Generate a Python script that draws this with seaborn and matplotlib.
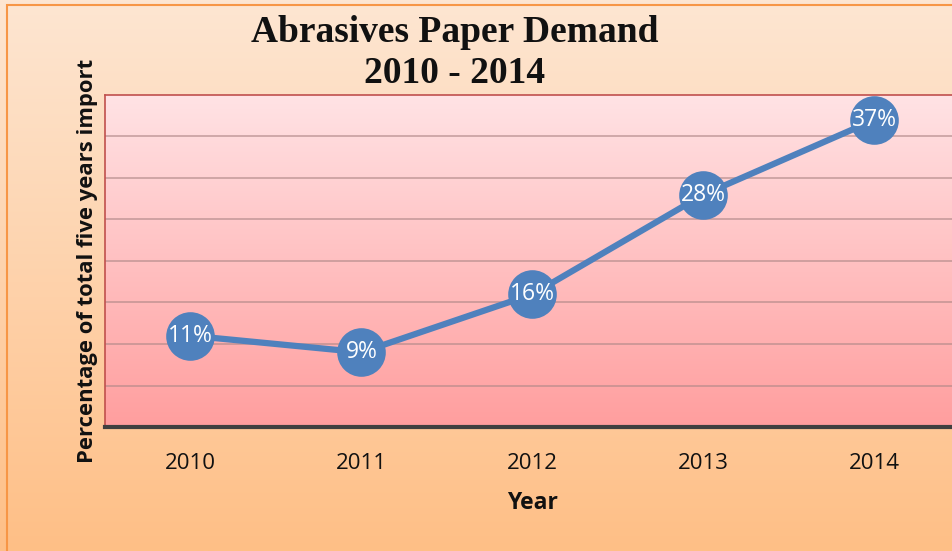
import numpy as np
import pandas as pd
import matplotlib
matplotlib.use("Agg")
import matplotlib.pyplot as plt
from matplotlib.colors import LinearSegmentedColormap
from matplotlib.patches import Rectangle
import seaborn as sns

years = ["2010", "2011", "2012", "2013", "2014"]
shares = [11, 9, 16, 28, 37]
labels = ["11%", "9%", "16%", "28%", "37%"]

df = pd.DataFrame({"Year": years, "Share": shares})

sns.set_theme(style="white")
plt.rcParams["font.family"] = ["Open Sans", "DejaVu Sans"]

W, H = 953, 551
fig = plt.figure(figsize=(W / 100, H / 100), dpi=100)

# figure background gradient (peach to orange)
bg = fig.add_axes([0, 0, 1, 1], zorder=0)
bg_cmap = LinearSegmentedColormap.from_list("bg", ["#fde6d2", "#ffbf86"])
bg.imshow(np.linspace(0, 1, 256).reshape(-1, 1), cmap=bg_cmap, aspect="auto",
          extent=[0, 1, 0, 1], origin="upper")
bg.set_xlim(0, 1)
bg.set_ylim(0, 1)
bg.axis("off")
# outer chart border
bg.add_patch(Rectangle((7 / W, -0.1), 1.2, 1 - 5 / H + 0.1, fill=False,
                       edgecolor="#f79646", linewidth=1.5))

ax = fig.add_axes([105 / W, 124 / H, 855 / W, 332 / H], zorder=1)
ax.set_xlim(-0.5, 4.5)
ax.set_ylim(0, 40)

# plot area gradient (light pink to salmon)
pa_cmap = LinearSegmentedColormap.from_list("pa", ["#ffe3e5", "#ff9e9e"])
ax.imshow(np.linspace(0, 1, 256).reshape(-1, 1), cmap=pa_cmap, aspect="auto",
          extent=[-0.5, 4.5, 0, 40], origin="upper", zorder=0)

for y in range(5, 40, 5):
    ax.axhline(y, color="#b08888", linewidth=1.3, alpha=0.65, zorder=1)

sns.lineplot(data=df, x="Year", y="Share", ax=ax, color="#4f81bd",
             linewidth=4.5, marker="o", markersize=35, markeredgewidth=0,
             zorder=3)
ax.set_xlim(-0.5, 4.5)
ax.set_ylim(0, 40)

for i, (v, t) in enumerate(zip(shares, labels)):
    ax.text(i, v, t, ha="center", va="center", color="white", fontsize=16.5,
            zorder=4)

ax.set_yticks(range(0, 41, 5))
ax.set_yticklabels([])
ax.tick_params(axis="y", length=0)
ax.set_xticks(range(len(years)))
ax.set_xticklabels(years, fontsize=16, color="#111111")
ax.tick_params(axis="x", length=0, pad=19)

for side in ["left", "top"]:
    ax.spines[side].set_color("#c0504d")
    ax.spines[side].set_linewidth(1.2)
ax.spines["right"].set_visible(False)
ax.spines["bottom"].set_color("#404040")
ax.spines["bottom"].set_linewidth(3)

ax.set_xlabel("Year", fontsize=16.5, fontweight="bold", labelpad=12, color="#111111")
ax.set_ylabel("")
fig.text(88 / W, 1 - 261 / H, "Percentage of total five years import",
         rotation=90, ha="center", va="center", fontsize=15.8,
         fontweight="bold", color="#111111")

fig.text(455 / W, 1 - 53 / H, "Abrasives Paper Demand\n2010 - 2014",
         ha="center", va="center", fontsize=27, fontweight="bold",
         family=["Liberation Serif"], linespacing=1.2, color="#111111")

fig.savefig("out.png", dpi=100)
